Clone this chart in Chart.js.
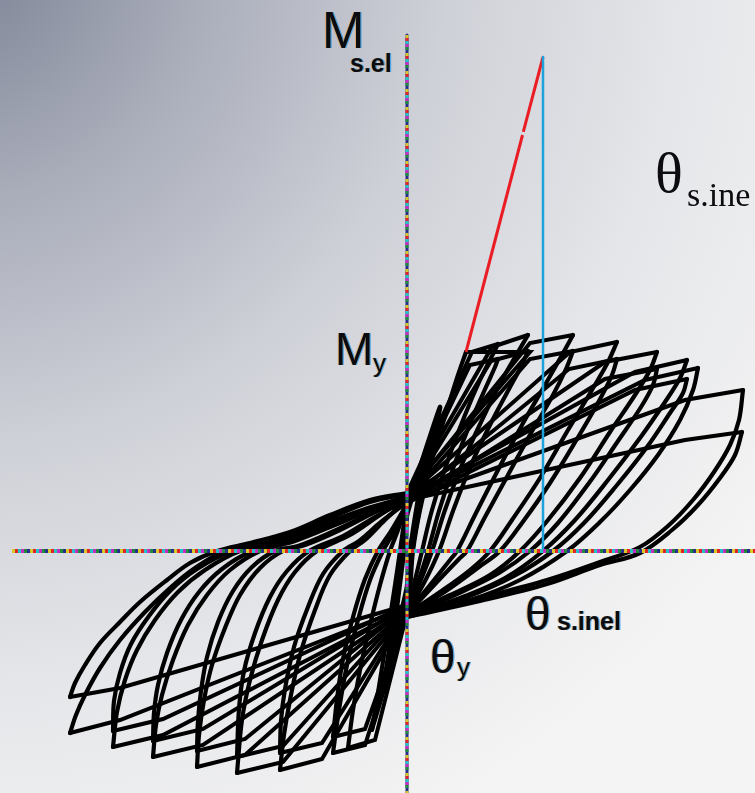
<!DOCTYPE html>
<html>
<head>
<meta charset="utf-8">
<script src="https://cdn.jsdelivr.net/npm/chart.js@4.4.1/dist/chart.umd.min.js"></script>
<style>
  html, body { margin: 0; padding: 0; background: #f4f4f4; overflow: hidden; }
  canvas { display: block; }
</style>
</head>
<body>
<canvas id="chart" width="755" height="793" style="width:755px;height:793px"></canvas>
<script>
// Rotation θ (×10⁻³ rad) vs. moment M (kNm) — cyclic response of a pinched member.
// Each branch is listed as [θ, M] pairs.

// Small pre-yield cycles around the origin
const elasticCycles = [
  [[0,-22],[0.5,0],[1.4,25],[2.4,50],[3.3,72],[0,22]],
  [[0,-18],[0.3,0],[0.9,20],[1.6,40],[2.2,55],[0,18]],
  [[0,22],[-0.5,0],[-1.1,-25],[-1.8,-50],[-2.4,-70],[0,-22]],
  [[0,18],[-0.3,0],[-0.8,-20],[-1.3,-40],[-1.7,-55],[0,-18]]
];

// First cycle at each amplitude: reloading towards the positive peaks (from the lower pinch point)
const posReload = [
  [[0,-29.5],[0.3,-19.5],[0.6,0],[1.3,20.5],[2.5,45.5],[4.0,70.5],[5.1,88],[5.9,99.5]],
  [[0,-29.5],[0.8,-14.5],[1.5,0],[2.5,20.5],[4.1,45.5],[5.8,68],[7.3,85.5],[8.5,97.5],[9.1,103.5]],
  [[0,-30.5],[1.3,-15.5],[2.5,0],[3.8,20.5],[5.6,44.5],[7.5,65.5],[9.5,85.5],[11.1,99.5],[12.1,108]],
  [[0,-31],[2.3,-17],[4.3,-4.5],[5.0,0],[6.8,18],[9.1,40.5],[11.5,63],[13.8,83],[15.5,98],[16.6,108]],
  [[0,-31.5],[3.3,-20.5],[6.3,-9.5],[8.3,0],[10.5,15.5],[13.3,36.5],[16.1,60.5],[18.5,80.5],[20.1,94.5],[21.0,104.5]],
  [[0,-32],[4.3,-22],[8.3,-12],[11.3,0],[14.1,15.5],[17.3,36.5],[20.3,59.5],[22.8,78],[24.3,90.5],[25.0,99.5]],
  [[0,-32.5],[5.3,-23.5],[9.8,-13.5],[13.6,0],[16.8,15.5],[20.1,35.5],[23.3,56.5],[25.8,74.5],[27.3,86.5],[28.0,95.5]],
  [[0,-32.5],[6.3,-24.5],[11.3,-14.5],[16.0,0],[19.3,14.5],[22.3,30.5],[25.1,48],[27.3,65.5],[28.6,80.5],[29.1,91.5]],
  [[0,-33],[7.3,-23.5],[14.0,-14.5],[19.3,-5.5],[23.3,2],[26.1,12.5],[28.6,25.5],[30.7,39.5],[32.3,53],[33.2,65.5],[33.6,80.5]],
  [[0,-33],[7.3,-25],[14.0,-16.5],[19.3,-7],[23.3,-1],[26.5,10.5],[29.1,23],[31.3,36.5],[32.8,48],[33.5,59.5]]
];

// First cycle: unloading from the positive peaks back to the upper pinch point
const posUnload = [
  [[5.9,99.5],[12.3,99.5],[0,29]],
  [[9.1,103.5],[6.5,99.5],[0,29]],
  [[12.1,108],[8.5,102],[0,28.5]],
  [[16.6,108],[12.3,104],[0,28]],
  [[21.0,104.5],[16.3,99.5],[0,27.5]],
  [[25.0,99.5],[19.8,94.5],[0,27]],
  [[28.0,95.5],[22.8,89.5],[0,26.5]],
  [[29.1,91.5],[23.8,85.5],[0,26]],
  [[33.6,80.5],[27.8,75.5],[0,25.5]],
  [[33.5,59.5],[27.8,55.5],[0,25.5]]
];

// Repeated cycle at the same amplitude (degraded peaks): positive reloading
const posReload2 = [
  [[0,-30],[1.2,-14],[2.1,0],[3.2,20],[4.8,44],[6.5,66],[7.9,82],[8.8,92],[9.1,96]],
  [[0,-31],[1.8,-15],[3.2,0],[4.6,20],[6.4,43],[8.3,63],[10.2,81],[11.5,93],[12.1,100]],
  [[0,-31.5],[2.9,-16],[5.2,-4],[6.0,0],[7.8,17],[10.1,38],[12.4,59],[14.6,78],[15.9,91],[16.6,100]],
  [[0,-32],[3.9,-20],[7.2,-8],[9.3,0],[11.5,14],[14.3,34],[17,56],[19.2,75],[20.5,88],[21,96]],
  [[0,-32.5],[5,-21.5],[9.2,-11],[12.3,0],[15.1,14],[18.2,34],[21.1,55],[23.4,72],[24.6,83],[25,91]],
  [[0,-33],[6,-23],[10.7,-12.5],[14.6,0],[17.7,14],[21,33],[24,52],[26.3,69],[27.6,79],[28,86]]
];

// Repeated cycle: positive unloading
const posUnload2 = [
  [[9.1,96],[6.3,93],[0,27]],
  [[12.1,100],[8.4,95],[0,26.5]],
  [[16.6,100],[12.3,96],[0,26]],
  [[21,96],[16.2,91],[0,25]],
  [[25,91],[19.8,86],[0,24.5]],
  [[28,86],[22.8,80.5],[0,24]]
];

// First cycle: reloading towards the negative peaks (from the upper pinch point)
const negReload = [
  [[0,23],[-0.4,10.5],[-0.7,0],[-1.2,-17],[-1.9,-39.5],[-2.7,-64.5],[-3.5,-89.5]],
  [[0,24],[-0.9,10.5],[-1.7,0],[-2.7,-17],[-3.7,-37],[-4.7,-59.5],[-5.4,-79.5],[-5.9,-98.5]],
  [[0,24.5],[-1.2,10.5],[-2.4,0],[-3.7,-14.5],[-4.9,-34.5],[-6,-57],[-6.8,-79.5],[-7.4,-101]],
  [[0,25.5],[-2.2,15.5],[-4.2,5.5],[-5.7,0],[-7.7,-12],[-9.2,-29.5],[-10.7,-52],[-11.7,-74.5],[-12.3,-92],[-12.7,-109.5]],
  [[0,26.5],[-2.7,18],[-5.7,8],[-9,0],[-11.2,-10.5],[-12.9,-24.5],[-14.5,-44.5],[-15.7,-64.5],[-16.5,-84.5],[-17,-111]],
  [[0,27],[-3.2,19.5],[-6.7,10.5],[-10.2,3],[-12.4,0],[-14.7,-8.5],[-16.7,-22],[-18.2,-38.5],[-19.5,-57],[-20.3,-74.5],[-20.8,-92],[-21,-108]],
  [[0,27.5],[-3.2,21.5],[-7.2,13],[-11.2,5],[-14.7,0],[-17.7,-9.5],[-20,-22],[-21.9,-37],[-23.4,-54.5],[-24.5,-72],[-25.1,-87],[-25.4,-103]],
  [[0,23],[-3.7,19.5],[-7.7,13],[-11.7,5.5],[-16.7,0],[-20.2,-9.5],[-22.9,-20.5],[-25.2,-34.5],[-27,-49.5],[-28.2,-64.5],[-29,-80.5],[-29.4,-98]],
  [[0,28.5],[-3.7,24.5],[-7.7,16.5],[-11.7,8],[-15.2,2.5],[-18.2,0],[-21.2,-8.5],[-23.7,-18.5],[-26.2,-30.5],[-28.7,-44.5],[-30.7,-58.5],[-32.2,-72],[-33.1,-82],[-33.7,-91]],
  [[0,29],[-3.7,25.5],[-7.7,18],[-11.7,9.5],[-15.7,4],[-19,0],[-21.7,-6],[-24,-14.5],[-26.7,-25.5],[-28.7,-35.5],[-30.7,-46],[-32.2,-57],[-33.2,-66],[-33.7,-73]]
];

// First cycle: unloading from the negative peaks back to the lower pinch point
const negUnload = [
  [[-3.5,-89.5],[0,-31.5]],
  [[-5.9,-98.5],[-3.2,-94.5],[0,-31]],
  [[-7.4,-101],[-4.2,-97],[0,-31]],
  [[-12.7,-109.5],[-8.5,-104],[0,-30.5]],
  [[-17,-111],[-12.4,-105.5],[0,-30]],
  [[-21,-108],[-16.2,-102],[0,-29.5]],
  [[-25.4,-103],[-20.4,-97],[0,-29]],
  [[-29.4,-98],[-24.4,-92],[0,-28.5]],
  [[-33.7,-91],[-28.7,-84.5],[0,-28]],
  [[-33.7,-73],[-28.7,-68.5],[0,-27]]
];

// Repeated cycle: negative reloading
const negReload2 = [
  [[0,23.5],[-1.6,10],[-2.9,0],[-4.2,-14],[-5.4,-33],[-6.4,-54],[-7.0,-74],[-7.4,-93]],
  [[0,24.5],[-2.6,14.5],[-4.8,5],[-6.4,0],[-8.4,-11.5],[-9.9,-28],[-11.3,-48],[-12.2,-69],[-12.6,-85],[-12.7,-101]],
  [[0,25.5],[-3.2,17],[-6.4,7.5],[-9.8,0],[-12,-10],[-13.7,-23],[-15.2,-41],[-16.3,-60],[-16.8,-79],[-17,-103]],
  [[0,26],[-3.7,18.5],[-7.3,10],[-10.9,2.5],[-13.2,0],[-15.5,-8],[-17.4,-20],[-18.9,-35.5],[-20,-53],[-20.6,-70],[-20.9,-85],[-21,-100]],
  [[0,26.5],[-3.7,20.5],[-7.8,12.5],[-11.9,4.5],[-15.5,0],[-18.5,-9],[-20.8,-20.5],[-22.6,-34.5],[-24,-51],[-24.9,-67],[-25.3,-81],[-25.4,-95]],
  [[0,27],[-4.2,21],[-8.3,13.5],[-12.3,6],[-17.5,0],[-21,-9],[-23.6,-19.5],[-25.8,-32.5],[-27.6,-46.5],[-28.7,-61],[-29.3,-75],[-29.4,-90]]
];

// Repeated cycle: negative unloading
const negUnload2 = [
  [[-7.4,-93],[-4.2,-89],[0,-29.5]],
  [[-12.7,-101],[-8.5,-96],[0,-29]],
  [[-17,-103],[-12.4,-97.5],[0,-28.5]],
  [[-21,-100],[-16.2,-94],[0,-28]],
  [[-25.4,-95],[-20.4,-89],[0,-27.5]],
  [[-29.4,-90],[-24.4,-84],[0,-27]]
];

// Elastic extrapolation from the yield point (My) up to Ms.el, and the θs.inel marker
const elasticLineLow  = [[5.9,99.5],[11.55,208]];
const elasticLineHigh = [[11.63,209.6],[13.6,247]];
const inelasticMarker = [[13.6,247],[13.6,0]];

// Axes through the origin
const thetaAxis  = [[-39.5,0],[34.8,0]];
const momentAxis = [[0,258],[0,-121]];

const toXY = pts => pts.map(([x, y]) => ({ x, y }));
const datasets = [];
function addLine(pts, color, width, extra) {
  datasets.push(Object.assign({
    data: toXY(pts), showLine: true, fill: false,
    borderColor: color, backgroundColor: color, borderWidth: width,
    pointRadius: 0, pointHoverRadius: 0, tension: 0,
    borderCapStyle: 'round', borderJoinStyle: 'round'
  }, extra || {}));
}

const INK = '#000000';
elasticCycles.forEach(b => addLine(b, INK, 4.5, { tension: 0.2, order: 10 }));
[posReload, posReload2, negReload, negReload2].forEach(group =>
  group.forEach(b => addLine(b, INK, 4.2, { tension: 0.35, order: 10 })));
[posUnload, posUnload2, negUnload, negUnload2].forEach(group =>
  group.forEach(b => addLine(b, INK, 4, { order: 10, borderJoinStyle: 'miter' })));

addLine(elasticLineLow,  '#ea1c24', 3, { order: 3, borderCapStyle: 'butt' });
addLine(elasticLineHigh, '#ea1c24', 3, { order: 3, borderCapStyle: 'butt' });
addLine(inelasticMarker, '#1ea2dc', 2.5, { order: 2, borderCapStyle: 'butt' });

// Dotted, multi-coloured axis lines
const dotColors = ['#d8c828', '#e02428', '#22c2c6', '#c42cc2', '#1f8a3c'];
[[thetaAxis, 4], [momentAxis, 3]].forEach(([axis, w]) => {
  addLine(axis, '#26308c', w, { order: 1, borderCapStyle: 'butt' });
  dotColors.forEach((c, i) => addLine(axis, c, w, {
    order: 0, borderCapStyle: 'butt', borderDash: [3, 15], borderDashOffset: -i * 3
  }));
});

// Backdrop: darker towards the top-left corner
const backdrop = {
  id: 'backdrop',
  beforeDraw(chart) {
    const { ctx, width, height } = chart;
    const g = ctx.createRadialGradient(-50, -50, 0, -50, -50, 1000);
    g.addColorStop(0, '#7a8093');
    g.addColorStop(0.25, '#a9adba');
    g.addColorStop(0.5, '#cfd1d8');
    g.addColorStop(0.75, '#e6e7ea');
    g.addColorStop(1, '#f4f4f4');
    ctx.save();
    ctx.fillStyle = g;
    ctx.fillRect(0, 0, width, height);
    ctx.restore();
  }
};

// Symbol labels anchored at [θ, M]
const SANS = '"Liberation Sans", Arial, sans-serif';
const SERIF = '"Liberation Serif", "Times New Roman", serif';
const symbolLabels = [
  { text: 'M',      at: [-8.5, 251.5], font: '51px ' + SANS, fringe: true },
  { text: 's.el',   at: [-5.7, 239.5], font: 'bold 25px ' + SANS, fringe: true },
  { text: 'M',      at: [-7.2, 93],    font: '46px ' + SANS, fringe: true },
  { text: 'y',      at: [-3.4, 89.5],  font: '26px ' + SANS, fringe: true },
  { text: 'θ',      at: [24.8, 179.5], font: '58px ' + SERIF },
  { text: 's.ine',  at: [28.0, 172.5], font: '34px ' + SERIF },
  { text: 'θ',      at: [11.8, -39.5], font: '46px ' + SANS, fringe: true },
  { text: 's.inel', at: [15.0, -39.5], font: 'bold 25px ' + SANS, fringe: true },
  { text: 'θ',      at: [2.3, -61],    font: '46px ' + SANS, fringe: true },
  { text: 'y',      at: [5.0, -62.5],  font: '26px ' + SANS, fringe: true }
];
const symbols = {
  id: 'symbols',
  afterDraw(chart) {
    const { ctx, scales: { x, y } } = chart;
    ctx.save();
    ctx.textBaseline = 'alphabetic';
    ctx.textAlign = 'left';
    symbolLabels.forEach(l => {
      const px = x.getPixelForValue(l.at[0]);
      const py = y.getPixelForValue(l.at[1]);
      ctx.font = l.font;
      if (l.fringe) {
        ctx.fillStyle = 'rgba(40,150,230,0.75)';
        ctx.fillText(l.text, px + 1.2, py);
        ctx.fillStyle = 'rgba(230,150,40,0.6)';
        ctx.fillText(l.text, px - 1.0, py);
      }
      ctx.fillStyle = '#0b0b10';
      ctx.fillText(l.text, px, py);
    });
    ctx.restore();
  }
};

new Chart(document.getElementById('chart'), {
  type: 'scatter',
  data: { datasets },
  options: {
    responsive: false,
    animation: false,
    devicePixelRatio: 1,
    events: [],
    layout: { padding: 0 },
    plugins: { legend: { display: false }, tooltip: { enabled: false } },
    scales: {
      x: { type: 'linear', display: false, min: -40.7, max: 34.8 },
      y: { type: 'linear', display: false, min: -121, max: 275.5 }
    }
  },
  plugins: [backdrop, symbols]
});
</script>
</body>
</html>
